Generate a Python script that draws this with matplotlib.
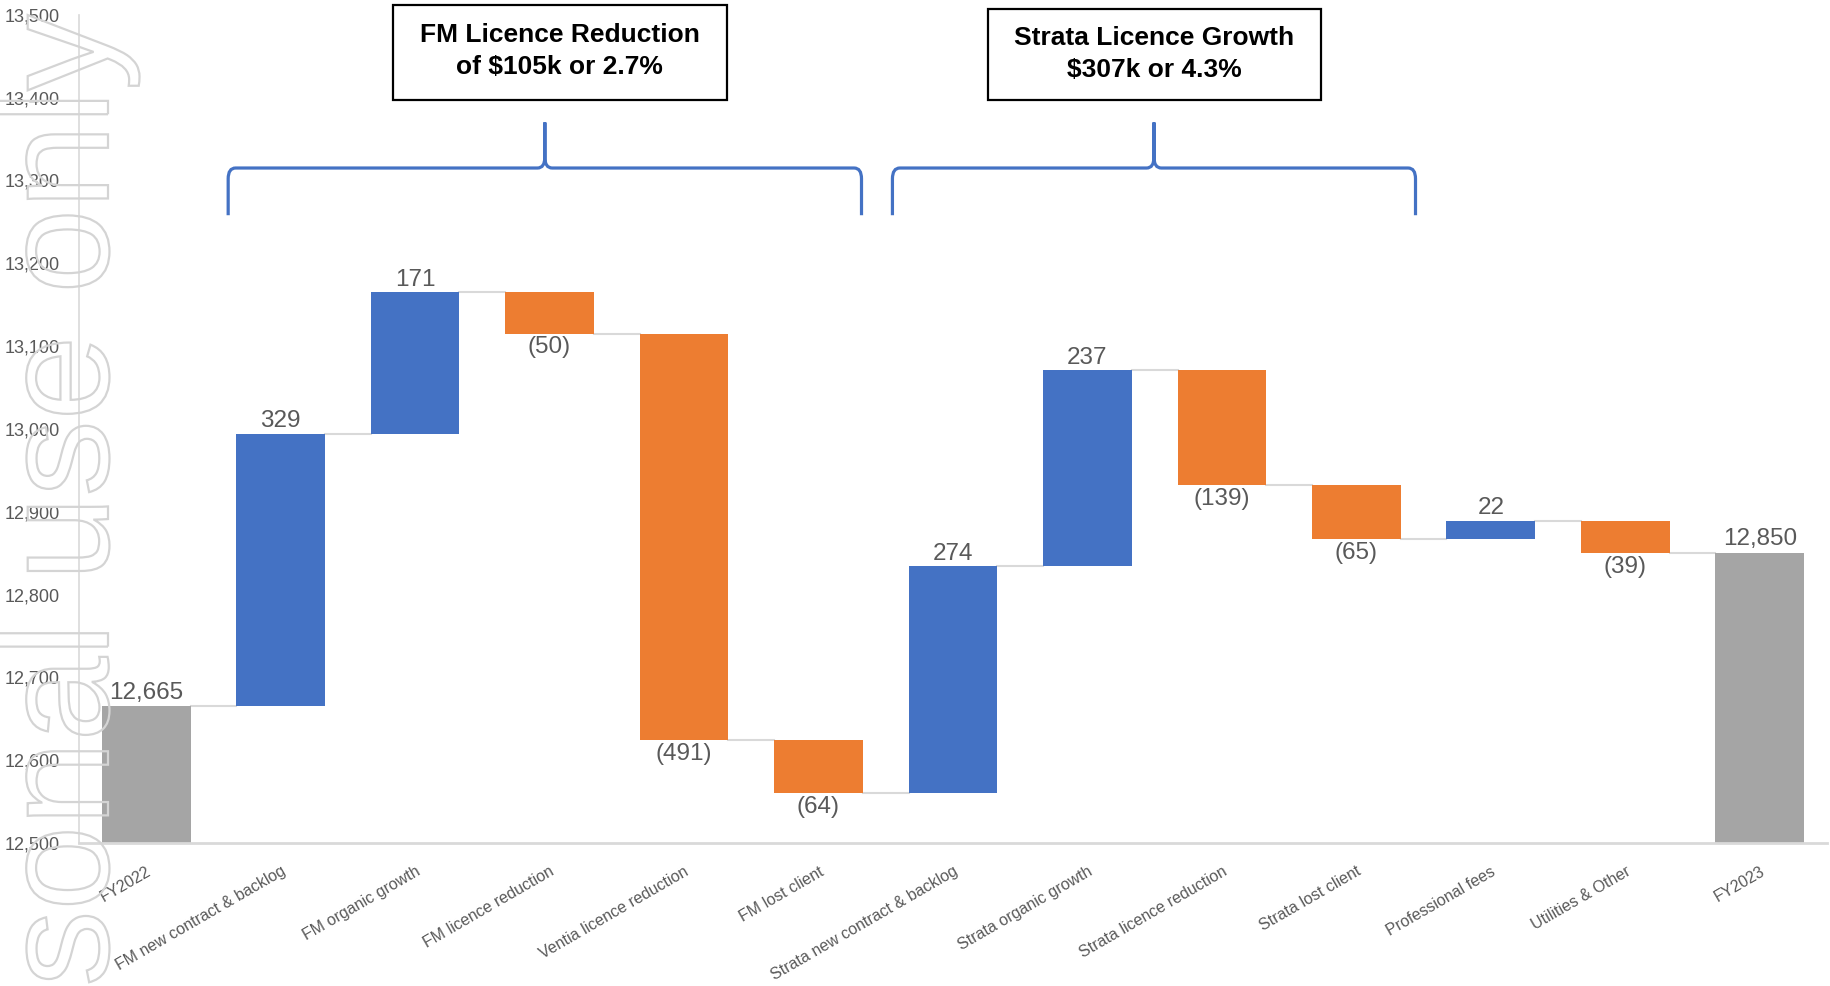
import numpy as np
import matplotlib
matplotlib.use("Agg")
import matplotlib.pyplot as plt
from matplotlib.path import Path
from matplotlib.patches import PathPatch, Rectangle
from matplotlib.textpath import TextPath
from matplotlib.font_manager import FontProperties
from matplotlib.transforms import Affine2D, IdentityTransform

plt.rcParams['font.family'] = ['Liberation Sans', 'DejaVu Sans']

categories = ["FY2022", "FM new contract & backlog", "FM organic growth",
              "FM licence reduction", "Ventia licence reduction", "FM lost client",
              "Strata new contract & backlog", "Strata organic growth",
              "Strata licence reduction", "Strata lost client", "Professional fees",
              "Utilities & Other", "FY2023"]
start_value = 12665
changes = [329, 171, -50, -491, -64, 274, 237, -139, -65, 22, -39]
end_value = 12850
box_texts = ["FM Licence Reduction\nof $105k or 2.7%",
             "Strata Licence Growth\n$307k or 4.3%"]

BLUE = "#4472C4"
ORANGE = "#ED7D31"
GREY = "#A5A5A5"
TXT = "#595959"
LINE = "#D9D9D9"

fig = plt.figure(figsize=(18.31, 9.86), dpi=100, facecolor="white")
ax = fig.add_axes([0.0431, 0.145, 0.9547, 0.84])

n = len(categories)
x = np.arange(n)
width = 0.66

# running totals
levels = start_value + np.cumsum(changes)
prev = np.concatenate([[start_value], levels[:-1]])

bottoms = [12000]
heights = [start_value - 12000]
colors = [GREY]
for p, c in zip(prev, changes):
    bottoms.append(min(p, p + c))
    heights.append(abs(c))
    colors.append(BLUE if c > 0 else ORANGE)
bottoms.append(12000)
heights.append(end_value - 12000)
colors.append(GREY)

ax.bar(x, heights, bottom=bottoms, width=width, color=colors, zorder=2)

# connectors
tops = [start_value] + list(levels) + [end_value]
for i in range(n - 1):
    ax.plot([x[i] + width / 2, x[i + 1] - width / 2], [tops[i], tops[i]],
            color=LINE, lw=1.5, zorder=1)

# data labels
lab = dict(textcoords="offset points", ha="center", fontsize=17.5, color=TXT)
ax.annotate(f"{start_value:,}", (x[0], start_value), xytext=(0, 2), va="bottom", **lab)
ax.annotate(f"{end_value:,}", (x[-1], end_value), xytext=(0, 2), va="bottom", **lab)
for i, (p, c) in enumerate(zip(prev, changes), start=1):
    if c > 0:
        ax.annotate(f"{c}", (x[i], p + c), xytext=(0, 1), va="bottom", **lab)
    else:
        ax.annotate(f"({-c})", (x[i], p + c), xytext=(0, -2), va="top", **lab)

ax.set_xlim(-0.5, n - 0.5)
ax.set_ylim(12500, 13500)
ax.set_yticks(np.arange(12500, 13501, 100))
ax.set_yticklabels([f"{v:,}" for v in range(12500, 13501, 100)])
ax.set_xticks(x)
ax.set_xticklabels(categories, rotation=30, ha="right", rotation_mode="anchor")
ax.tick_params(axis="y", length=0, pad=14, labelsize=13, labelcolor=TXT)
ax.tick_params(axis="x", length=0, pad=15, labelsize=11.5, labelcolor=TXT)
for s in ["top", "right"]:
    ax.spines[s].set_visible(False)
ax.spines["left"].set_color(LINE)
ax.spines["left"].set_linewidth(1.2)
ax.spines["bottom"].set_color(LINE)
ax.spines["bottom"].set_linewidth(2)


def brace(x0, x1, yb=13258, yh=13315, yt=13370, rx=0.055, ry=13):
    xm = (x0 + x1) / 2
    verts = [(x0, yb), (x0, yh - ry), (x0, yh), (x0 + rx, yh),
             (xm - rx, yh), (xm, yh), (xm, yh + ry), (xm, yt),
             (xm, yh + ry), (xm, yh), (xm + rx, yh),
             (x1 - rx, yh), (x1, yh), (x1, yh - ry), (x1, yb)]
    codes = [Path.MOVETO, Path.LINETO, Path.CURVE3, Path.CURVE3,
             Path.LINETO, Path.CURVE3, Path.CURVE3, Path.LINETO,
             Path.LINETO, Path.CURVE3, Path.CURVE3,
             Path.LINETO, Path.CURVE3, Path.CURVE3, Path.LINETO]
    ax.add_patch(PathPatch(Path(verts, codes), fill=False, edgecolor=BLUE,
                           lw=2.3, clip_on=False, zorder=3))


brace(0.61, 5.32)
brace(5.55, 9.44)

# annotation boxes
for (bx0, bx1, by0, by1, ty), t in zip([(0.2146, 0.397, 0.8986, 0.9949, 0.948),
                                        (0.5396, 0.7215, 0.8986, 0.9909, 0.945)], box_texts):
    fig.add_artist(Rectangle((bx0, by0), bx1 - bx0, by1 - by0, transform=fig.transFigure,
                             facecolor="white", edgecolor="black", lw=1.6))
    fig.text((bx0 + bx1) / 2, ty, t, ha="center", va="center",
             fontsize=19, fontweight="bold", color="black", linespacing=1.4)

# watermark
tp = TextPath((0, 0), "personal use only", size=152,
              prop=FontProperties(family="Liberation Sans"))
w = tp.get_extents().x1
tr = Affine2D().rotate_deg(90).translate(108, 971 - w)
fig.add_artist(PathPatch(tp, transform=tr + IdentityTransform(), facecolor="none",
                         edgecolor="#D4D4D4", lw=1.6, zorder=10))

fig.savefig("out.png", dpi=100, facecolor="white")
